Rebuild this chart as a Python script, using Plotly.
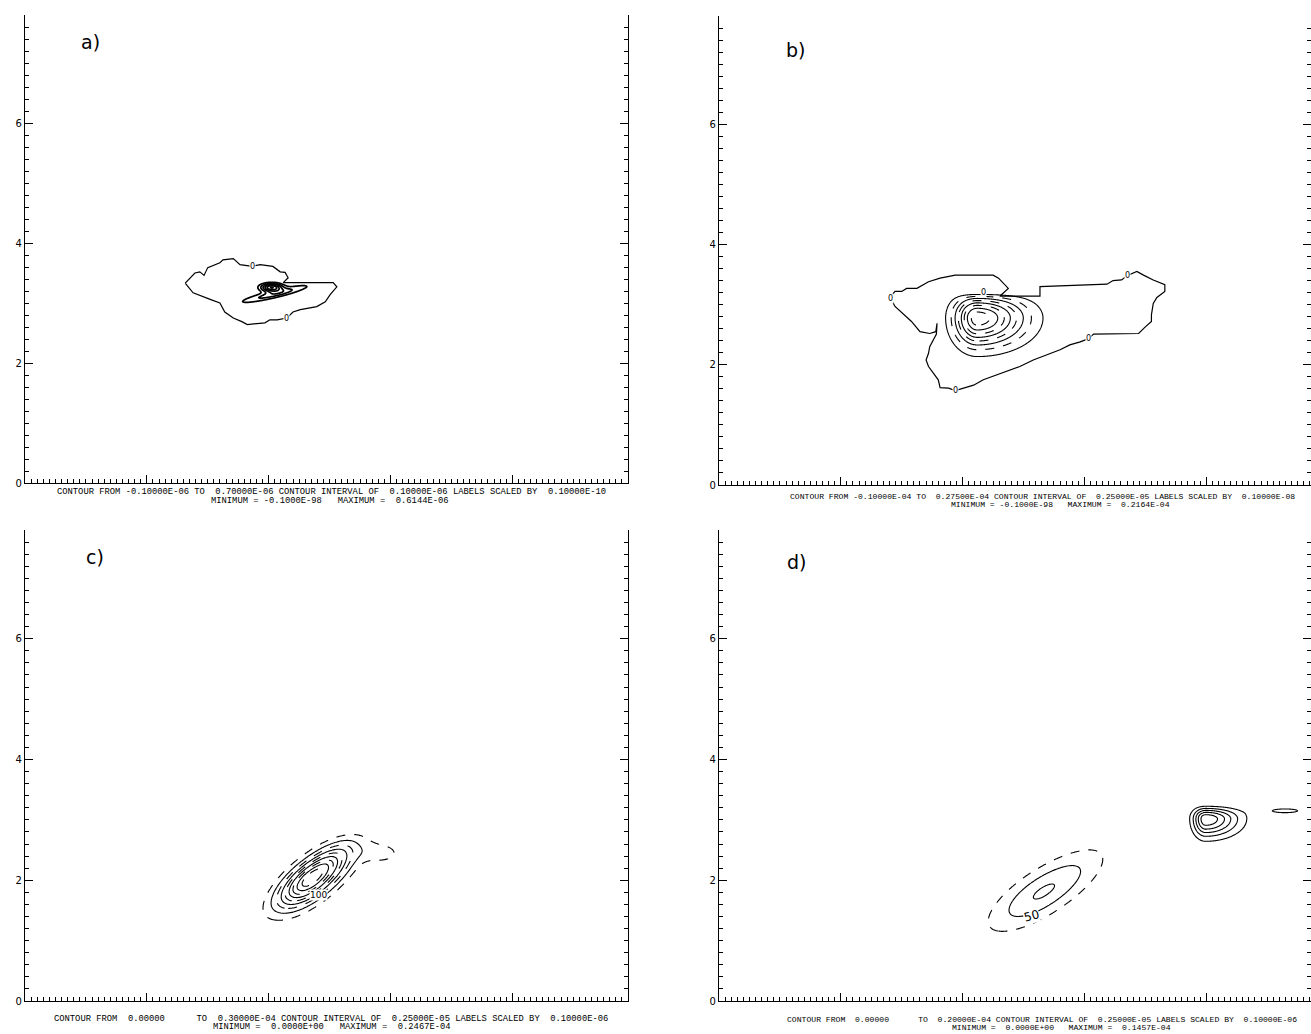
import numpy as np
import plotly.graph_objects as go

# ---------------- frame / ticks ----------------
X_MAX_LEFT = 9.9
X_MAX_RIGHT = 9.72
Y_MAX = 7.8
PANEL_LABELS = ["a)", "b)", "c)", "d)"]
LABEL_X = [1.07, 1.25, 1.15, 1.28]
LABEL_Y = [7.35, 7.23, 7.35, 7.27]

CAPTION_1 = [
    "CONTOUR FROM -0.10000E-06 TO  0.70000E-06 CONTOUR INTERVAL OF  0.10000E-06 LABELS SCALED BY  0.10000E-10",
    "CONTOUR FROM -0.10000E-04 TO  0.27500E-04 CONTOUR INTERVAL OF  0.25000E-05 LABELS SCALED BY  0.10000E-08",
    "CONTOUR FROM  0.00000      TO  0.30000E-04 CONTOUR INTERVAL OF  0.25000E-05 LABELS SCALED BY  0.10000E-06",
    "CONTOUR FROM  0.00000      TO  0.20000E-04 CONTOUR INTERVAL OF  0.25000E-05 LABELS SCALED BY  0.10000E-06",
]
CAPTION_2 = [
    "MINIMUM = -0.1000E-98   MAXIMUM =  0.6144E-06",
    "MINIMUM = -0.1000E-98   MAXIMUM =  0.2164E-04",
    "MINIMUM =  0.0000E+00   MAXIMUM =  0.2467E-04",
    "MINIMUM =  0.0000E+00   MAXIMUM =  0.1457E-04",
]

# ---------------- panel a ----------------
A_ZERO_X = [2.63, 2.79, 2.87, 2.94, 3.00, 3.20, 3.25, 3.42, 3.53, 3.73, 3.86, 4.07, 4.19, 4.27, 4.32,
            4.24, 4.52, 5.06, 5.12, 5.01, 4.93, 4.79, 4.68, 4.52, 4.40, 4.30, 4.14, 4.02, 3.94, 3.65,
            3.56, 3.42, 3.28, 3.20, 3.04, 2.92, 2.76, 2.63]
A_ZERO_Y = [3.33, 3.50, 3.52, 3.46, 3.59, 3.67, 3.72, 3.74, 3.64, 3.61, 3.64, 3.61, 3.52, 3.51, 3.42,
            3.34, 3.34, 3.34, 3.27, 3.14, 3.02, 2.94, 2.92, 2.89, 2.85, 2.75, 2.72, 2.72, 2.67, 2.64,
            2.69, 2.75, 2.85, 3.00, 3.06, 3.11, 3.17, 3.33]
A_ZERO_LABEL_X = [3.73, 4.30]
A_ZERO_LABEL_Y = [3.61, 2.75]
# cores of the field (units 1E-06)
A_X0 = [4.05, 4.10]
A_Y0 = [3.26, 3.15]
A_AMP = [0.60, 0.25]
A_ANG = [0.0, 13.5]
A_SNEG = [0.12, 0.40]
A_SPOS = [0.12, 0.40]
A_TNEG = [0.05, 0.045]
A_TPOS = [0.045, 0.045]
A_CAP = [None, None]
A_CAPW = [None, None]
A_LEVELS = [0.1, 0.6, 0.1]

# ---------------- panel b ----------------
B_ZERO_X = [2.81, 2.89, 3.00, 3.08, 3.25, 3.44, 3.63, 3.88, 4.50, 4.59, 4.75, 4.61, 4.94, 5.27, 5.27,
            5.82, 6.37, 6.47, 6.61, 6.70, 6.86, 6.97, 7.13, 7.32, 7.32, 7.19, 7.13, 7.10, 7.10, 7.00,
            6.89, 6.15, 6.06, 5.93, 5.76, 5.60, 5.38, 5.16, 4.94, 4.72, 4.50, 4.34, 4.18, 4.01, 3.88,
            3.77, 3.63, 3.60, 3.52, 3.44, 3.40, 3.44, 3.46, 3.52, 3.57, 3.58, 3.56, 3.46, 3.30, 3.16,
            3.00, 2.89, 2.81]
B_ZERO_Y = [3.12, 3.22, 3.22, 3.27, 3.27, 3.38, 3.44, 3.49, 3.49, 3.44, 3.27, 3.14, 3.14, 3.14, 3.30,
            3.32, 3.34, 3.40, 3.41, 3.48, 3.55, 3.49, 3.41, 3.33, 3.22, 3.12, 3.02, 2.83, 2.72, 2.63,
            2.52, 2.51, 2.43, 2.38, 2.33, 2.25, 2.16, 2.08, 1.97, 1.89, 1.80, 1.75, 1.66, 1.61, 1.57,
            1.61, 1.62, 1.75, 1.86, 1.97, 2.08, 2.19, 2.30, 2.41, 2.51, 2.69, 2.55, 2.52, 2.55, 2.72,
            2.86, 2.97, 3.12]
B_ZERO_LABEL_X = [2.81, 6.70, 6.06, 3.88, 4.34]
B_ZERO_LABEL_Y = [3.11, 3.48, 2.43, 1.57, 3.20]
# core (units 1E-05)
B_X0 = [4.24]
B_Y0 = [2.78]
B_AMP = [2.164]
B_ANG = [0.0]
B_SNEG = [0.25]
B_SPOS = [0.52]
B_TNEG = [0.31]
B_TPOS = [0.26]
B_CAP = [3.20]
B_CAPW = [0.07]
B_LEVELS = [0.25, 2.0, 0.25]

# ---------------- panel c (label units, 1E-07) ----------------
C_X0 = [4.71, 5.85]
C_Y0 = [2.04, 2.45]
C_AMP = [246.7, 35.0]
C_ANG = [39.0, 0.0]
C_SNEG = [0.46, 0.25]
C_SPOS = [0.52, 0.25]
C_TNEG = [0.20, 0.13]
C_TPOS = [0.18, 0.13]
C_CAP = [2.90, None]
C_CAPW = [0.10, None]
C_LEVELS = [25.0, 225.0, 25.0]
C_LABEL = ["100"]
C_LABEL_X = [4.82]
C_LABEL_Y = [1.75]

# ---------------- panel d (label units, 1E-07) ----------------
D1_X0 = [5.33]
D1_Y0 = [1.81]
D1_AMP = [78.0]
D1_ANG = [33.0]
D1_SNEG = [0.70]
D1_SPOS = [0.75]
D1_TNEG = [0.25]
D1_TPOS = [0.25]
D1_CAP = [None]
D1_CAPW = [None]
D2_X0 = [7.99, 9.30]
D2_Y0 = [3.02, 3.15]
D2_AMP = [145.7, 30.0]
D2_ANG = [0.0, 0.0]
D2_SNEG = [0.14, 0.33]
D2_SPOS = [0.36, 0.33]
D2_TNEG = [0.20, 0.05]
D2_TPOS = [0.13, 0.05]
D2_CAP = [3.27, None]
D2_CAPW = [0.05, None]
D_LEVELS = [25.0, 125.0, 25.0]
D_LABEL = ["50"]
D_LABEL_X = [5.13]
D_LABEL_Y = [1.41]


def field(xs, ys, x0, y0, amp, ang, sneg, spos, tneg, tpos, cap, capw):
    X, Y = np.meshgrid(xs, ys)
    Z = np.zeros_like(X)
    for i in range(len(x0)):
        a = np.deg2rad(ang[i])
        dx, dy = X - x0[i], Y - y0[i]
        u = dx * np.cos(a) + dy * np.sin(a)
        v = -dx * np.sin(a) + dy * np.cos(a)
        su = np.where(u < 0, sneg[i], spos[i])
        sv = np.where(v < 0, tneg[i], tpos[i])
        g = amp[i] * np.exp(-0.5 * ((u / su) ** 2 + (v / sv) ** 2))
        if cap[i] is not None:
            g = g * np.clip(1 - np.exp(-(cap[i] - Y) / capw[i]), 0, None)
        Z += g
    return np.round(Z, 4)


def contour(xs, ys, Z, start, end, size, ax, dash="solid", width=1.1):
    return go.Contour(
        x=np.round(xs, 3), y=np.round(ys, 3), z=Z, xaxis="x" + ax, yaxis="y" + ax,
        autocontour=False,
        contours=dict(start=start, end=end + 1e-6, size=size, coloring="lines", showlabels=False),
        colorscale=[[0, "black"], [1, "black"]], showscale=False,
        line=dict(width=width, dash=dash, smoothing=1.0), hoverinfo="skip",
    )


def zero_line(xv, yv, ax):
    return go.Scatter(x=xv, y=yv, mode="lines", xaxis="x" + ax, yaxis="y" + ax,
                      line=dict(color="black", width=1.2), hoverinfo="skip")


fig = go.Figure()

# panel a
ax_ = np.arange(3.2, 5.0, 0.01)
ay_ = np.arange(2.85, 3.55, 0.005)
ZA = field(ax_, ay_, A_X0, A_Y0, A_AMP, A_ANG, A_SNEG, A_SPOS, A_TNEG, A_TPOS, A_CAP, A_CAPW)
fig.add_trace(zero_line(A_ZERO_X, A_ZERO_Y, ""))
fig.add_trace(contour(ax_, ay_, ZA, *A_LEVELS, "", width=1.7))

# panel b
bx_ = np.arange(3.3, 6.2, 0.01)
by_ = np.arange(1.7, 3.4, 0.01)
ZB = field(bx_, by_, B_X0, B_Y0, B_AMP, B_ANG, B_SNEG, B_SPOS, B_TNEG, B_TPOS, B_CAP, B_CAPW)
fig.add_trace(zero_line(B_ZERO_X, B_ZERO_Y, "2"))
s, e, d = B_LEVELS
fig.add_trace(contour(bx_, by_, ZB, s, e, 2 * d, "2", "solid"))
fig.add_trace(contour(bx_, by_, ZB, s + d, e, 2 * d, "2", "dash"))

# panel c
cx_ = np.arange(3.4, 6.6, 0.02)
cy_ = np.arange(0.9, 3.1, 0.02)
ZC = field(cx_, cy_, C_X0, C_Y0, C_AMP, C_ANG, C_SNEG, C_SPOS, C_TNEG, C_TPOS, C_CAP, C_CAPW)
s, e, d = C_LEVELS
fig.add_trace(contour(cx_, cy_, ZC, s, e, 2 * d, "3", "dash"))
fig.add_trace(contour(cx_, cy_, ZC, s + d, e, 2 * d, "3", "solid"))

# panel d
d1x = np.arange(3.8, 7.0, 0.02)
d1y = np.arange(0.7, 2.9, 0.02)
ZD1 = field(d1x, d1y, D1_X0, D1_Y0, D1_AMP, D1_ANG, D1_SNEG, D1_SPOS, D1_TNEG, D1_TPOS, D1_CAP, D1_CAPW)
s, e, d = D_LEVELS
fig.add_trace(contour(d1x, d1y, ZD1, s, s, d, "4", "dash"))
fig.add_trace(contour(d1x, d1y, ZD1, s + d, e, d, "4", "solid"))
d2x = np.arange(7.4, 9.9, 0.01)
d2y = np.arange(2.4, 3.45, 0.01)
ZD2 = field(d2x, d2y, D2_X0, D2_Y0, D2_AMP, D2_ANG, D2_SNEG, D2_SPOS, D2_TNEG, D2_TPOS, D2_CAP, D2_CAPW)
fig.add_trace(contour(d2x, d2y, ZD2, s, e, d, "4", "solid"))

W, H = 1311, 1034


def px_dom_x(p0, p1):
    return [p0 / W, min(p1 / W, 1.0)]


def px_dom_y(bottom, top):
    return [1 - bottom / H, 1 - top / H]


def xaxis_cfg(domain, xmax, anchor):
    return dict(domain=domain, range=[0, xmax], anchor=anchor, showline=True, linecolor="black",
                linewidth=1.4, mirror=False, ticks="inside", ticklen=8, tickwidth=1.2,
                tickcolor="black", dtick=2, tick0=0, showticklabels=False, showgrid=False,
                zeroline=False, fixedrange=True, automargin=False,
                minor=dict(dtick=0.1, ticklen=4, tickwidth=1, tickcolor="black", ticks="inside",
                           showgrid=False))


def yaxis_cfg(domain, anchor):
    return dict(domain=domain, range=[0, Y_MAX], anchor=anchor, showline=True, linecolor="black",
                linewidth=1.4, mirror="ticks", ticks="inside", ticklen=8, tickwidth=1.2,
                tickcolor="black", dtick=2, tick0=0, showgrid=False, zeroline=False,
                fixedrange=True, automargin=False,
                tickfont=dict(family="DejaVu Sans", size=10, color="black"),
                minor=dict(dtick=0.2, ticklen=4, tickwidth=1, tickcolor="black", ticks="inside",
                           showgrid=False))


fig.update_layout(
    width=W, height=H, margin=dict(l=0, r=0, t=0, b=0, autoexpand=False),
    paper_bgcolor="white", plot_bgcolor="white", showlegend=False,
    xaxis=xaxis_cfg(px_dom_x(25, 628), X_MAX_LEFT, "y"),
    yaxis=yaxis_cfg(px_dom_y(483, 15), "x"),
    xaxis2=xaxis_cfg(px_dom_x(719, 1311), X_MAX_RIGHT, "y2"),
    yaxis2=yaxis_cfg(px_dom_y(485, 16), "x2"),
    xaxis3=xaxis_cfg(px_dom_x(25, 628), X_MAX_LEFT, "y3"),
    yaxis3=yaxis_cfg(px_dom_y(1001, 530), "x3"),
    xaxis4=xaxis_cfg(px_dom_x(719, 1311), X_MAX_RIGHT, "y4"),
    yaxis4=yaxis_cfg(px_dom_y(1001, 530), "x4"),
)

ann = []
axn = ["", "2", "3", "4"]
for i in range(4):
    ann.append(dict(x=LABEL_X[i], y=LABEL_Y[i], xref="x" + axn[i], yref="y" + axn[i],
                    text=PANEL_LABELS[i], showarrow=False,
                    font=dict(family="DejaVu Sans", size=19, color="black")))


def zlabel(x, y, ax, text="0", size=8, angle=0):
    return dict(x=x, y=y, xref="x" + ax, yref="y" + ax, text=text, showarrow=False,
                textangle=angle, bgcolor="white", borderpad=0,
                font=dict(family="DejaVu Sans", size=size, color="black"))


for x, y in zip(A_ZERO_LABEL_X, A_ZERO_LABEL_Y):
    ann.append(zlabel(x, y, ""))
for x, y in zip(B_ZERO_LABEL_X, B_ZERO_LABEL_Y):
    ann.append(zlabel(x, y, "2"))
for t, x, y in zip(C_LABEL, C_LABEL_X, C_LABEL_Y):
    ann.append(zlabel(x, y, "3", t, 9))
for t, x, y in zip(D_LABEL, D_LABEL_X, D_LABEL_Y):
    ann.append(zlabel(x, y, "4", t, 12, -15))

# captions (paper coordinates)
CAP_POS = [(331, 492, 330, 501, 8.8), (1042, 496, 1060, 504, 8.1),
           (331, 1019, 332, 1027, 8.8), (1042, 1019, 1061, 1027, 8.1)]
for i, (x1, y1, x2, y2, fs) in enumerate(CAP_POS):
    for txt, xx, yy in ((CAPTION_1[i], x1, y1), (CAPTION_2[i], x2, y2)):
        ann.append(dict(x=xx / W, y=1 - yy / H, xref="paper", yref="paper",
                        text=txt.replace(" ", "\u00a0"), showarrow=False,
                        xanchor="center", yanchor="middle",
                        font=dict(family="Liberation Mono", size=fs, color="black")))

fig.update_layout(annotations=ann)
fig.write_html("out.html", config={"displayModeBar": False},
               post_script="document.body.style.margin='0';document.body.style.overflow='hidden';")
